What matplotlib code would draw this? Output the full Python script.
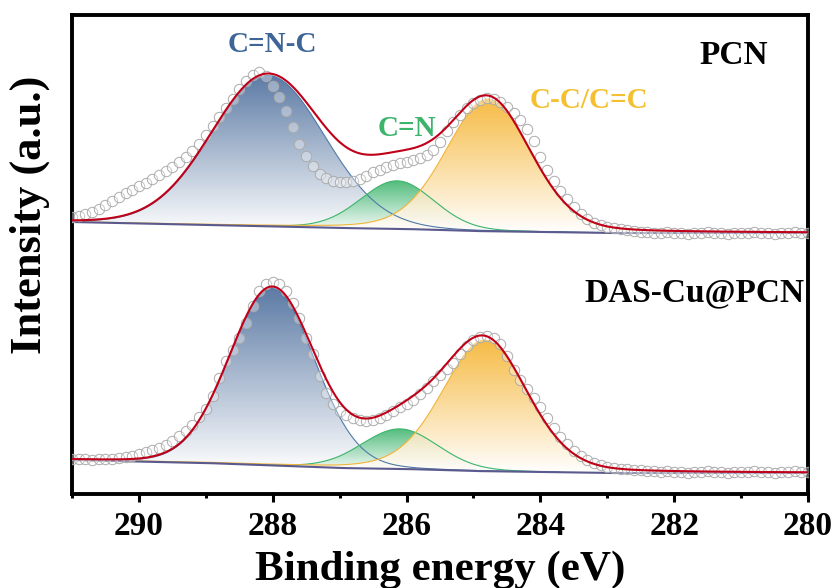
import numpy as np
import matplotlib
matplotlib.use("Agg")
import matplotlib.pyplot as plt
from matplotlib.colors import LinearSegmentedColormap

# ---- data ----
# measured points, 0.1 eV step from 291.0 down to 280.0
energy = np.linspace(291.0, 280.0, 111)

pcn_counts = [
    287, 288, 290, 292, 295, 299, 303, 307, 311, 314,
    318, 321, 325, 329, 333, 337, 342, 347, 353, 360,
    369, 378, 387, 396, 405, 415, 423, 429, 432, 428,
    418, 407, 393, 377, 360, 348, 338, 330, 326, 323,
    322, 322, 323, 325, 328, 332, 334, 337, 339, 341,
    342, 344, 346, 349, 354, 362, 373, 382, 389, 396,
    401, 404, 406, 405, 402, 397, 391, 384, 375, 363,
    347, 334, 323, 313, 305, 297, 290, 285, 281, 279,
    277, 276, 275, 274, 273, 272, 272, 271, 271, 272,
    271, 271, 270, 271, 271, 272, 271, 271, 270, 271,
    271, 271, 272, 271, 271, 270, 271, 271, 272, 271,
    271,
]

das_counts = [
    45, 45, 45, 44, 45, 45, 45, 46, 47, 48,
    50, 52, 54, 56, 59, 63, 68, 73, 79, 87,
    95, 108, 126, 143, 154, 166, 181, 198, 213, 220,
    222, 220, 213, 201, 186, 166, 150, 128, 111, 100,
    93, 89, 86, 84, 83, 84, 86, 89, 93, 97,
    100, 104, 110, 116, 123, 129, 135, 141, 150, 158,
    164, 167, 168, 166, 160, 148, 134, 124, 115, 106,
    97, 86, 76, 67, 60, 53, 48, 44, 41, 39,
    37, 36, 35, 35, 34, 34, 33, 33, 32, 33,
    32, 32, 31, 32, 32, 33, 32, 32, 31, 32,
    32, 32, 33, 32, 32, 31, 32, 32, 33, 32,
    32,
]

# background (Shirley-like) knots
bg_energy = [291.0, 289.0, 287.0, 286.0, 285.0, 284.0, 283.0, 280.0]
pcn_bg = [282, 279, 276, 275, 273, 272, 271, 271]
das_bg = [44, 41, 36, 35, 33, 32, 31, 31]

# fitted components: C=N-C, C=N, C-C/C=C
peak_names = ["C=N-C", "C=N", "C-C/C=C"]
peak_colors = ["#4a6c9b", "#3cb46c", "#f6b430"]
peak_edges = ["#4f7aa6", "#3cb46c", "#f2b43a"]
pcn_center = [288.07, 286.14, 284.78]
pcn_height = [151, 48, 132]
pcn_fwhm = [2.0, 1.3, 1.5]
das_center = [288.01, 286.10, 284.83]
das_height = [177, 40, 131]
das_fwhm = [1.5, 1.35, 1.5]
lor_frac = [0.05, 0.1, 0.2]

plt.rcParams["font.family"] = ["Liberation Serif", "DejaVu Serif"]
plt.rcParams["font.weight"] = "bold"


def pseudo_voigt(x, c, h, w, eta):
    sig = w / 2.3548
    g = np.exp(-0.5 * ((x - c) / sig) ** 2)
    l = 1.0 / (1.0 + ((x - c) / (w / 2)) ** 2)
    return h * ((1 - eta) * g + eta * l)


def gradient_fill(ax, x, top, base, color, z):
    poly = ax.fill_between(x, base, top, facecolor="none", edgecolor="none")
    cmap = LinearSegmentedColormap.from_list("g", ["#ffffff", color])
    grad = np.linspace(0, 1, 256).reshape(-1, 1)
    im = ax.imshow(grad, cmap=cmap, aspect="auto", origin="lower",
                   extent=[x.max(), x.min(), base.min(), top.max()],
                   zorder=z, alpha=0.9, interpolation="bilinear")
    im.set_clip_path(poly.get_paths()[0], transform=ax.transData)


def draw_spectrum(ax, counts, bg, centers, heights, fwhms):
    xf = np.linspace(291.0, 280.0, 1101)
    base = np.interp(xf[::-1], bg_energy[::-1], bg[::-1])[::-1]
    total = base.copy()
    for i in range(3):
        comp = pseudo_voigt(xf, centers[i], heights[i], fwhms[i], lor_frac[i])
        total += comp
        mask = comp > 0.3
        gradient_fill(ax, xf[mask], base[mask] + comp[mask], base[mask],
                      peak_colors[i], 1 + i)
        ax.plot(xf[mask], base[mask] + comp[mask], color=peak_edges[i],
                lw=0.8, zorder=4)
    ax.plot(xf, base, color="#5a5a8e", lw=1.5, zorder=5)
    ax.plot(energy, counts, "o", ms=7.5, mfc=(1, 1, 1, 0.35),
            mec="#ababab", mew=0.7, zorder=6)
    ax.plot(xf, total, color="#c00018", lw=1.5, zorder=7)


fig = plt.figure(figsize=(8.37, 5.88), dpi=100)
ax = fig.add_axes([72 / 837, 1 - 494 / 588, 736 / 837, 479 / 588])

draw_spectrum(ax, pcn_counts, pcn_bg, pcn_center, pcn_height, pcn_fwhm)
draw_spectrum(ax, das_counts, das_bg, das_center, das_height, das_fwhm)

ax.set_xlim(291, 280)
ax.set_ylim(10, 489)
ax.set_yticks([])
ax.set_xticks([290, 288, 286, 284, 282, 280])
ax.set_xticks([291, 289, 287, 285, 283, 281], minor=True)
ax.tick_params(axis="x", which="major", direction="out", length=6, width=2.2,
               labelsize=24, pad=6)
ax.tick_params(axis="x", which="minor", direction="out", length=3, width=2.2)
for s in ax.spines.values():
    s.set_linewidth(2.8)

ax.set_xlabel("Binding energy (eV)", fontsize=31, fontweight="bold")
ax.xaxis.label.set_va("baseline")
ax.xaxis.set_label_coords(0.5, (494 - 580) / 479)
fig.text(30 / 837, 1 - 215 / 588, "Intensity (a.u.)", fontsize=32,
         fontweight="bold", rotation=90, ha="center", va="center")

ax.text(288.0, 460, "C=N-C", color="#3d6597", fontsize=21, fontweight="bold",
        ha="center", va="center")
ax.text(286.0, 376, "C=N", color="#3cb46c", fontsize=21, fontweight="bold",
        ha="center", va="center")
ax.text(283.27, 404, "C-C/C=C", color="#f5c030", fontsize=21,
        fontweight="bold", ha="center", va="center")
ax.text(280.6, 449, "PCN", color="black", fontsize=24, fontweight="bold",
        ha="right", va="center")
ax.text(280.05, 211, "DAS-Cu@PCN", color="black", fontsize=24,
        fontweight="bold", ha="right", va="center")

fig.savefig("out.png", dpi=100)
